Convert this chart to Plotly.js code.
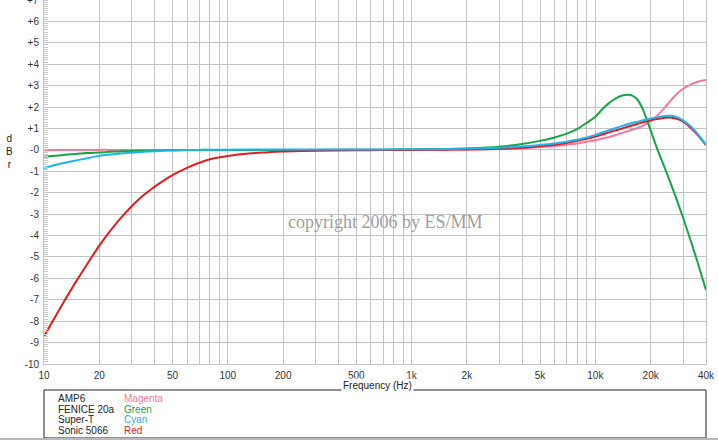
<!DOCTYPE html>
<html>
<head>
<meta charset="utf-8">
<script src="https://cdn.plot.ly/plotly-3.0.1.min.js"></script>
<style>html,body{margin:0;padding:0;background:#fff;}#chart{width:718px;height:440px;}</style>
</head>
<body>
<div id="chart"></div>
<script>
// Frequency points (Hz)
const freq = [10, 11, 12, 13, 15, 17, 20, 23, 26, 30, 35, 40, 45, 50, 60, 70, 80, 100, 130, 160, 200, 300, 500, 700, 1000, 1500, 2000, 3000, 4000, 5000, 6000, 7000, 8000, 9000, 10000, 11000, 12000, 13000, 14000, 15000, 16000, 17000, 18000, 19000, 20000, 22000, 24000, 26000, 28000, 30000, 33000, 36000, 40000];

// Series values (dBr)
const amp6 = [-0.02, -0.02, -0.01, -0.01, -0.01, -0.01, 0, 0, 0, 0, 0, 0, 0, 0, 0, 0, 0, 0, 0, 0, 0, 0, 0, 0, 0, 0.01, 0.02, 0.04, 0.08, 0.13, 0.18, 0.24, 0.3, 0.38, 0.45, 0.53, 0.61, 0.7, 0.79, 0.87, 0.95, 1.02, 1.12, 1.22, 1.35, 1.65, 2.0, 2.35, 2.65, 2.85, 3.05, 3.18, 3.27];
const fenice = [-0.32, -0.29, -0.26, -0.23, -0.19, -0.15, -0.12, -0.09, -0.07, -0.05, -0.04, -0.03, -0.02, -0.02, -0.01, 0, 0, 0, 0, 0, 0, 0, 0.01, 0.01, 0.02, 0.04, 0.07, 0.15, 0.27, 0.42, 0.58, 0.76, 0.98, 1.27, 1.55, 1.93, 2.22, 2.42, 2.54, 2.57, 2.52, 2.33, 1.95, 1.45, 0.9, -0.08, -0.9, -1.68, -2.43, -3.17, -4.23, -5.25, -6.55];
const superT = [-0.85, -0.75, -0.67, -0.6, -0.49, -0.4, -0.28, -0.22, -0.17, -0.13, -0.09, -0.06, -0.04, -0.03, -0.01, 0, 0.01, 0.01, 0.02, 0.02, 0.02, 0.02, 0.02, 0.02, 0.03, 0.04, 0.06, 0.1, 0.16, 0.23, 0.3, 0.38, 0.48, 0.58, 0.7, 0.82, 0.93, 1.03, 1.12, 1.2, 1.27, 1.32, 1.37, 1.42, 1.46, 1.53, 1.58, 1.59, 1.52, 1.38, 1.1, 0.75, 0.25];
const sonic = [-8.72, -8.09, -7.52, -7.01, -6.13, -5.4, -4.47, -3.77, -3.21, -2.63, -2.1, -1.72, -1.42, -1.18, -0.84, -0.6, -0.44, -0.29, -0.17, -0.12, -0.08, -0.04, -0.02, -0.01, 0, 0.01, 0.02, 0.05, 0.1, 0.17, 0.24, 0.32, 0.42, 0.52, 0.62, 0.73, 0.83, 0.92, 1.0, 1.08, 1.15, 1.22, 1.28, 1.33, 1.38, 1.45, 1.5, 1.5, 1.44, 1.32, 1.03, 0.7, 0.22];

const seriesNames = ["AMP6", "FENICE 20a", "Super-T", "Sonic 5066"];
const colorNames = ["Magenta", "Green", "Cyan", "Red"];
const lineColors = ["#f07ba0", "#17a446", "#1cb4ea", "#e01b22"];

// Axis ticks
const xTickVals = [10, 20, 50, 100, 200, 500, 1000, 2000, 5000, 10000, 20000, 40000];
const xTickText = ["10", "20", "50", "100", "200", "500", "1k", "2k", "5k", "10k", "20k", "40k"];
const yTickVals = [7, 6, 5, 4, 3, 2, 1, 0, -1, -2, -3, -4, -5, -6, -7, -8, -9, -10];
const yTickText = ["+7", "+6", "+5", "+4", "+3", "+2", "+1", "-0", "-1", "-2", "-3", "-4", "-5", "-6", "-7", "-8", "-9", "-10"];

const minorX = [];
[10, 100, 1000, 10000].forEach(d => { for (let k = 1; k <= 9; k++) { const v = d * k; if (v <= 40000) minorX.push(v); } });

const seriesData = [amp6, fenice, superT, sonic];
const drawOrder = [0, 1, 3, 2];
const traces = drawOrder.map(i => ({
  x: freq, y: seriesData[i], type: 'scatter', mode: 'lines', name: seriesNames[i],
  line: {color: lineColors[i], width: 2, shape: 'spline', smoothing: 0.8},
  hoverinfo: 'skip'
}));

const PL = 44, PR = 706, PT = 0, PB = 364;
const px = x => (x - PL) / (PR - PL);
const py = y => (PB - y) / (PB - PT);
const txtFont = 'Liberation Sans, Arial, sans-serif';

const annotations = [
  {xref: 'paper', yref: 'paper', x: px(385), y: py(222), text: 'copyright 2006 by ES/MM', showarrow: false,
   font: {family: 'Liberation Serif, DejaVu Serif, serif', size: 18, color: '#a0a0a0'}, xanchor: 'center', yanchor: 'middle'},
  {xref: 'paper', yref: 'paper', x: px(9), y: py(151), text: 'd<br>B<br>r', showarrow: false,
   font: {family: txtFont, size: 10, color: '#222'}, xanchor: 'center', yanchor: 'middle'},
  {xref: 'paper', yref: 'paper', x: px(377), y: py(385), text: 'Frequency (Hz)', showarrow: false,
   font: {family: txtFont, size: 10, color: '#222'}, xanchor: 'center', yanchor: 'middle',
   bgcolor: '#ffffff', borderpad: 1},
  {xref: 'paper', yref: 'y', x: px(41), y: yTickVals[0], text: yTickText[0], showarrow: false,
   font: {family: txtFont, size: 10, color: '#333'}, xanchor: 'right', yanchor: 'middle'}
];
const rowY = [398, 409, 419.5, 430];
seriesNames.forEach((n, i) => {
  annotations.push({xref: 'paper', yref: 'paper', x: px(56), y: py(rowY[i]), text: n, showarrow: false,
    font: {family: txtFont, size: 10, color: '#222'}, xanchor: 'left', yanchor: 'middle'});
  annotations.push({xref: 'paper', yref: 'paper', x: px(122), y: py(rowY[i]), text: colorNames[i], showarrow: false,
    font: {family: txtFont, size: 10, color: lineColors[i]}, xanchor: 'left', yanchor: 'middle'});
});

const layout = {
  width: 718, height: 440,
  margin: {l: PL, r: 718 - PR, t: PT, b: 440 - PB},
  paper_bgcolor: '#ffffff', plot_bgcolor: '#ffffff',
  showlegend: false,
  font: {family: txtFont, size: 10, color: '#333'},
  xaxis: {
    type: 'log', range: [1, Math.log10(40000)],
    tickmode: 'array', tickvals: xTickVals, ticktext: xTickText,
    showgrid: true, gridcolor: '#c2c2c2', gridwidth: 1,
    ticks: '', ticklabelstandoff: 2,
    showline: true, linecolor: '#c2c2c2', linewidth: 1, mirror: true,
    zeroline: false,
    minor: {tickmode: 'array', tickvals: minorX, showgrid: true, gridcolor: '#c2c2c2', gridwidth: 1, ticks: ''},
    tickfont: {size: 10, color: '#333'}
  },
  yaxis: {
    range: [-10, 7],
    tickmode: 'array', tickvals: yTickVals, ticktext: yTickText,
    showgrid: true, gridcolor: '#c2c2c2', gridwidth: 1,
    ticks: '', ticklabelstandoff: 2,
    showline: true, linecolor: '#c2c2c2', linewidth: 1, mirror: true,
    zeroline: false,
    minor: {tickmode: 'linear', tick0: 0, dtick: 0.1, ticks: 'inside', ticklen: 4, tickcolor: '#c8c8c8', tickwidth: 1, showgrid: false},
    tickfont: {size: 10, color: '#333'}
  },
  shapes: [
    {type: 'rect', xref: 'paper', yref: 'paper', x0: px(44), x1: px(706), y0: py(390), y1: py(438),
     line: {color: '#222', width: 1}, fillcolor: 'rgba(0,0,0,0)', layer: 'below'},
    {type: 'line', xref: 'paper', yref: 'paper', x0: px(0), x1: px(718), y0: py(439), y1: py(439),
     line: {color: '#b8b8b8', width: 2}}
  ],
  annotations: annotations
};

Plotly.newPlot('chart', traces, layout, {displayModeBar: false, staticPlot: true});
</script>
</body>
</html>
